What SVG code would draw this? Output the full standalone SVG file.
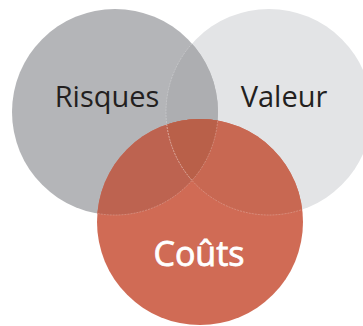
<svg xmlns="http://www.w3.org/2000/svg" width="363" height="326" viewBox="0 0 363 326">
<style>
.lbl{font-family:"Open Sans","Liberation Sans",sans-serif;font-size:29px;fill:#231f20;text-anchor:middle}
.lblw{font-family:"Open Sans","Liberation Sans",sans-serif;font-size:34px;fill:#ffffff;stroke:#ffffff;stroke-width:0.8;text-anchor:middle}
.edge{fill:none;stroke:#ffffff;stroke-opacity:0.35;stroke-width:0.7;stroke-dasharray:2 1}
</style>
<defs>
<clipPath id="cR"><circle cx="115" cy="112" r="103"/></clipPath>
<clipPath id="cV"><circle cx="269" cy="112" r="103"/></clipPath>
<clipPath id="cC"><circle cx="200" cy="222" r="103"/></clipPath>
</defs>
<rect width="363" height="326" fill="#ffffff"/>
<g id="valeur">
<circle cx="269" cy="112" r="103" fill="#e3e4e6"/>
</g>
<g id="risques">
<circle cx="115" cy="112" r="103" fill="#b4b5b8"/>
<circle cx="269" cy="112" r="103" fill="#adaeb1" clip-path="url(#cR)"/>
</g>
<g id="couts">
<circle cx="200" cy="222" r="103" fill="#d06b55"/>
<g clip-path="url(#cC)">
<circle cx="115" cy="112" r="103" fill="#bd6350"/>
<circle cx="269" cy="112" r="103" fill="#c86852"/>
<g clip-path="url(#cR)"><circle cx="269" cy="112" r="103" fill="#b96049"/></g>
</g>
</g>
<g id="connectors">
<circle class="edge" cx="269" cy="112" r="103" clip-path="url(#cR)"/>
<g clip-path="url(#cC)">
<circle class="edge" cx="115" cy="112" r="103"/>
<circle class="edge" cx="269" cy="112" r="103"/>
</g>
</g>
<text class="lbl" x="107" y="107">Risques</text>
<text class="lbl" x="284" y="106.5">Valeur</text>
<text class="lblw" x="199" y="265.5">Coûts</text>
</svg>
